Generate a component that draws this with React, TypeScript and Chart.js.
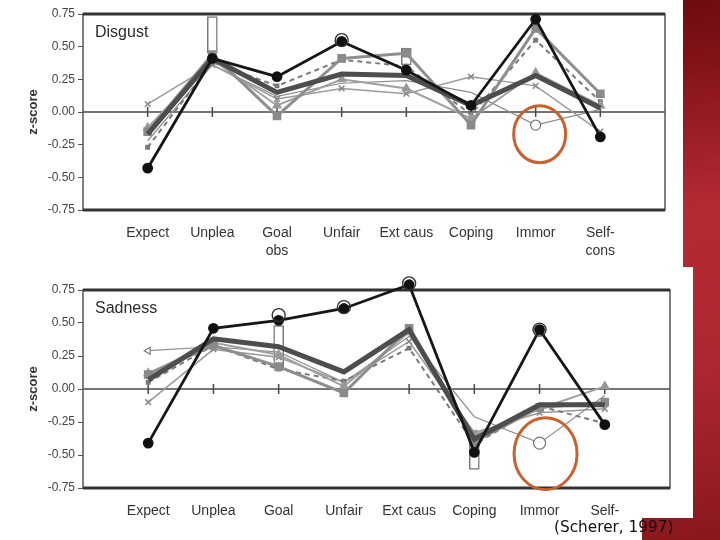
import React, { useEffect, useRef } from 'react';
import { Chart, registerables } from 'chart.js';

Chart.register(...registerables);

// ---------- data ----------
const disgustLabels: (string | string[])[] = ['', 'Expect', 'Unplea', ['Goal', 'obs'], 'Unfair', 'Ext caus', 'Coping', 'Immor', ['Self-', 'cons'], ''];
const sadnessLabels: (string | string[])[] = ['', 'Expect', 'Unplea', 'Goal', 'Unfair', 'Ext caus', 'Coping', 'Immor', ['Self-', 'cons'], ''];
const yTickValues = [-0.75, -0.5, -0.25, 0, 0.25, 0.5, 0.75];

// Disgust
const disgustBlack = [-0.43, 0.41, 0.27, 0.54, 0.32, 0.05, 0.71, -0.19];
const disgustDark = [-0.17, 0.41, 0.15, 0.29, 0.28, 0.05, 0.28, 0.03];
const disgustSquares = [-0.15, 0.44, -0.03, 0.41, 0.45, -0.1, 0.64, 0.14];
const disgustTriangles = [-0.12, 0.4, 0.05, 0.25, 0.18, -0.05, 0.3, 0.05];
const disgustCrosses = [0.06, 0.36, 0.1, 0.18, 0.14, 0.27, 0.2, -0.15];
const disgustDashed = [-0.27, 0.38, 0.2, 0.4, 0.35, -0.02, 0.55, 0.08];
const disgustThin = [-0.22, 0.36, 0.12, 0.22, 0.24, 0.15, -0.1, 0.02];
const disgustOpen = [null, null, null, 0.55, null, null, null, null];
const disgustRanges = [null, [0.45, 0.73], null, null, [0.36, 0.49], null, null, null];
const disgustHighlight = -0.17;

// Sadness
const sadnessBlack = [-0.41, 0.46, 0.52, 0.61, 0.79, -0.48, 0.45, -0.27];
const sadnessDark = [0.07, 0.38, 0.32, 0.13, 0.45, -0.38, -0.12, -0.12];
const sadnessSquares = [0.11, 0.33, 0.17, -0.03, 0.46, -0.4, -0.14, -0.1];
const sadnessTriangles = [0.12, 0.35, 0.26, 0.02, 0.43, -0.35, -0.15, 0.02];
const sadnessCrosses = [-0.1, 0.3, 0.24, 0.05, 0.36, -0.33, -0.18, -0.15];
const sadnessDashed = [0.05, 0.33, 0.15, 0.06, 0.31, -0.42, -0.13, -0.26];
const sadnessThin = [0.29, 0.32, 0.28, 0.05, 0.4, -0.21, -0.41, -0.05];
const sadnessOpen = [null, null, 0.56, 0.62, 0.8, null, 0.45, null];
const sadnessRanges = [null, null, [0.16, 0.48], null, null, [-0.61, -0.33], null, null];
const sadnessHighlight = -0.49;

// ---------- helpers ----------
const pad = (a: any[], fill: any = null) => [fill, ...a, fill];
const FONT = '"Liberation Sans", Arial, sans-serif';

interface Series {
  black: number[]; dark: number[]; squares: number[]; triangles: number[];
  crosses: number[]; dashed: number[]; thin: number[]; open: (number | null)[];
  ranges: (number[] | null)[]; thinRadius: number[]; thinStyle: string[];
}

function buildDatasets(s: Series): any[] {
  return [
    {
      type: 'bar', data: pad(s.ranges), backgroundColor: '#ffffff', borderColor: '#7a7a7a',
      borderWidth: 1.5, barThickness: 10, borderSkipped: false, order: 20,
    },
    {
      data: pad(s.thin), borderColor: '#8c8c8c', borderWidth: 1.2, pointRadius: pad(s.thinRadius, 0),
      pointStyle: pad(s.thinStyle, 'circle'), pointBackgroundColor: 'rgba(255,255,255,0.9)',
      pointBorderColor: '#777', pointBorderWidth: 1.2, pointRotation: pad(s.thinStyle.map(v => (v === 'triangle' ? -90 : 0)), 0), order: 8,
    },
    {
      data: pad(s.crosses), borderColor: '#9a9a9a', borderWidth: 1.5, pointStyle: 'crossRot', pointRadius: 4,
      pointBorderColor: '#888', pointBorderWidth: 1.5, order: 7,
    },
    {
      data: pad(s.dashed), borderColor: '#7a7a7a', borderWidth: 2, borderDash: [5, 4], pointStyle: 'rect', pointRadius: 2,
      pointBackgroundColor: '#777', pointBorderColor: '#777', order: 6,
    },
    {
      data: pad(s.triangles), borderColor: '#a0a0a0', borderWidth: 2, pointStyle: 'triangle', pointRadius: 4,
      pointBackgroundColor: '#999', pointBorderColor: '#999', order: 5,
    },
    {
      data: pad(s.squares), borderColor: '#8e8e8e', borderWidth: 3, pointStyle: 'rect', pointRadius: 4,
      pointBackgroundColor: '#8a8a8a', pointBorderColor: '#8a8a8a', order: 4,
    },
    {
      data: pad(s.dark), borderColor: '#4d4d4d', borderWidth: 5, pointRadius: 0, order: 3,
    },
    {
      data: pad(s.black), borderColor: '#161616', borderWidth: 2.8, pointStyle: 'circle', pointRadius: 4,
      pointBackgroundColor: '#111', pointBorderColor: '#111', order: 1,
    },
    {
      data: pad(s.open), showLine: false, pointStyle: 'circle', pointRadius: 6.5,
      pointBackgroundColor: 'rgba(0,0,0,0)', pointBorderColor: '#333', pointBorderWidth: 1.4, order: 0,
    },
  ].map(d => ({ ...d, clip: false }));
}

function decorPlugin(title: string, highlight: number, rx: number, ry: number, dx: number) {
  return {
    id: 'decor',
    beforeDatasetsDraw(chart: any) {
      const { ctx, chartArea: a, scales: { x, y } } = chart;
      const y0 = y.getPixelForValue(0);
      ctx.save();
      ctx.strokeStyle = '#4a4a4a';
      ctx.lineWidth = 1.5;
      ctx.beginPath();
      ctx.moveTo(a.left, y0);
      ctx.lineTo(a.right, y0);
      for (let i = 1; i <= 8; i++) {
        const px = x.getPixelForValue(i);
        ctx.moveTo(px, y0 - 5);
        ctx.lineTo(px, y0 + 5);
      }
      ctx.stroke();
      // frame
      ctx.strokeStyle = '#555';
      ctx.lineWidth = 1.5;
      ctx.strokeRect(a.left, a.top, a.right - a.left, a.bottom - a.top);
      ctx.strokeStyle = '#333';
      ctx.lineWidth = 3;
      ctx.beginPath();
      ctx.moveTo(a.left, a.top);
      ctx.lineTo(a.right, a.top);
      ctx.moveTo(a.left, a.bottom);
      ctx.lineTo(a.right, a.bottom);
      ctx.stroke();
      ctx.restore();
    },
    afterDraw(chart: any) {
      const { ctx, chartArea: a, scales: { x, y } } = chart;
      ctx.save();
      ctx.fillStyle = '#2a2a2a';
      ctx.font = `16px ${FONT}`;
      ctx.textBaseline = 'middle';
      ctx.textAlign = 'left';
      ctx.fillText(title, a.left + 12, a.top + 19);
      // highlight ellipse
      const cx = x.getPixelForValue(7) + dx;
      const cy = y.getPixelForValue(highlight);
      ctx.strokeStyle = '#c8612e';
      ctx.lineWidth = 3;
      ctx.beginPath();
      ctx.ellipse(cx, cy, rx, ry, 0, 0, Math.PI * 2);
      ctx.stroke();
      ctx.restore();
    },
  };
}

function makeConfig(labels: any[], s: Series, title: string, highlight: number, rx: number, ry: number, dx: number,
  padRight: number, padTop: number, xHeight: number): any {
  return {
    type: 'line',
    data: { labels, datasets: buildDatasets(s) },
    options: {
      animation: false,
      responsive: false,
      layout: { padding: { left: 0, right: padRight, top: padTop, bottom: 0 } },
      elements: { line: { tension: 0 } },
      plugins: { legend: { display: false }, tooltip: { enabled: false } },
      scales: {
        x: {
          type: 'category', offset: false,
          grid: { display: false, drawTicks: false }, border: { display: false },
          ticks: {
            autoSkip: false, maxRotation: 0, minRotation: 0, padding: 14, color: '#333',
            font: { family: FONT, size: 14, lineHeight: 1.3 },
          },
          afterFit: (sc: any) => { sc.height = xHeight; },
        },
        y: {
          min: -0.75, max: 0.75,
          afterBuildTicks: (sc: any) => { sc.ticks = yTickValues.map(v => ({ value: v })); },
          ticks: { callback: (v: any) => Number(v).toFixed(2), padding: 3, color: '#444', font: { family: FONT, size: 12 } },
          grid: { drawOnChartArea: false, drawTicks: true, tickLength: 5, color: '#555' },
          border: { display: false },
          title: { display: true, text: 'z-score', color: '#333', font: { family: FONT, size: 13, weight: 'bold' }, padding: { top: 26, bottom: 0 } },
          afterFit: (sc: any) => { sc.width = 83; },
        },
      },
    },
    plugins: [decorPlugin(title, highlight, rx, ry, dx)],
  };
}

const disgustSeries: Series = {
  black: disgustBlack, dark: disgustDark, squares: disgustSquares, triangles: disgustTriangles,
  crosses: disgustCrosses, dashed: disgustDashed, thin: disgustThin, open: disgustOpen, ranges: disgustRanges,
  thinRadius: [0, 0, 0, 0, 0, 0, 5, 0], thinStyle: ['circle', 'circle', 'circle', 'circle', 'circle', 'circle', 'circle', 'circle'],
};
const sadnessSeries: Series = {
  black: sadnessBlack, dark: sadnessDark, squares: sadnessSquares, triangles: sadnessTriangles,
  crosses: sadnessCrosses, dashed: sadnessDashed, thin: sadnessThin, open: sadnessOpen, ranges: sadnessRanges,
  thinRadius: [4, 0, 0, 0, 0, 0, 6, 0], thinStyle: ['triangle', 'circle', 'circle', 'circle', 'circle', 'circle', 'circle', 'circle'],
};

export default function App() {
  const topRef = useRef<HTMLCanvasElement>(null);
  const botRef = useRef<HTMLCanvasElement>(null);

  useEffect(() => {
    document.body.style.margin = '0';
    const c1 = new Chart(topRef.current!, makeConfig(disgustLabels, disgustSeries, 'Disgust', disgustHighlight, 26, 28.5, 4, 18, 14, 57));
    const c2 = new Chart(botRef.current!, makeConfig(sadnessLabels, sadnessSeries, 'Sadness', sadnessHighlight, 31.5, 36, 6, 23, 23, 30));
    return () => { c1.destroy(); c2.destroy(); };
  }, []);

  return (
    <div style={{
      position: 'absolute', left: 0, top: 0, width: 720, height: 540, overflow: 'hidden',
      background: 'linear-gradient(172deg, #4e0507 0%, #7c1015 22%, #b52a33 48%, #ad2830 72%, #8a171d 100%)',
    }}>
      <canvas ref={topRef} width={683} height={267}
        style={{ position: 'absolute', left: 0, top: 0, background: '#ffffff', display: 'block' }} />
      <canvas ref={botRef} width={693} height={251}
        style={{ position: 'absolute', left: 0, top: 267, background: '#ffffff', display: 'block' }} />
      <div style={{ position: 'absolute', left: 0, top: 518, width: 642, height: 22, background: '#ffffff' }} />
      <div style={{
        position: 'absolute', left: 554, top: 517, fontFamily: '"DejaVu Sans", sans-serif', fontSize: 15.3,
        lineHeight: '20px', color: '#111', whiteSpace: 'nowrap',
      }}>(Scherer, 1997)</div>
    </div>
  );
}
